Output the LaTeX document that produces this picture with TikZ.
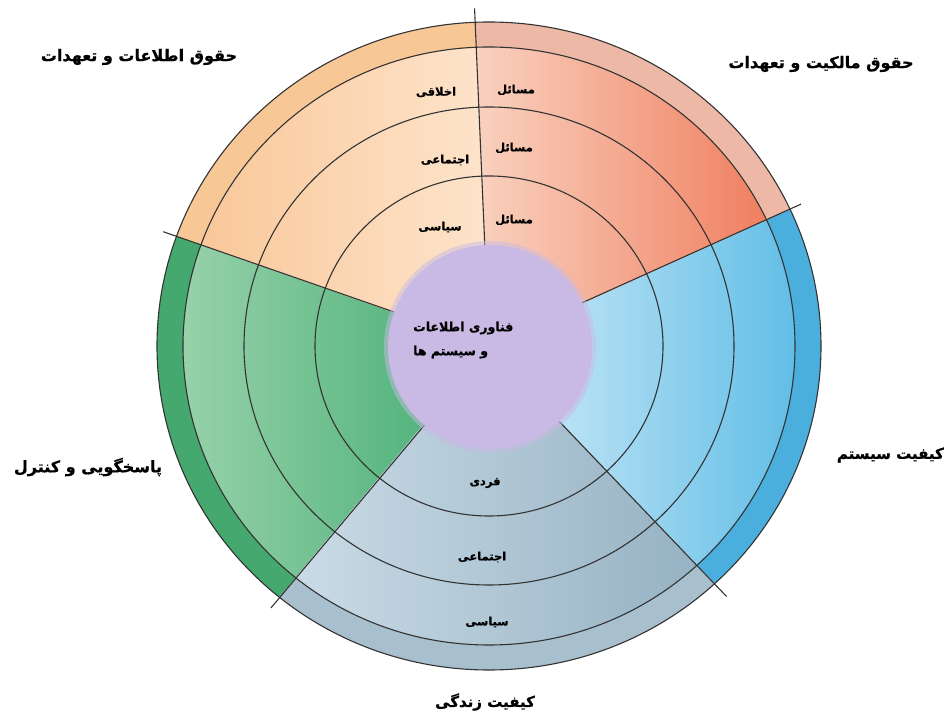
\documentclass[tikz,border=0pt]{standalone}
\usepackage{fontspec}
\newfontfamily\farsi[Script=Arabic,BoldFeatures={FakeBold=0.8}]{DejaVu Sans}
\TeXXeTstate=1

\definecolor{linegray}{HTML}{333333}
\definecolor{redlight}{HTML}{F9D2C0}
\definecolor{reddeep}{HTML}{EF7858}
\definecolor{redring}{HTML}{EDB9A6}
\definecolor{orangelight}{HTML}{F9C596}
\definecolor{orangepale}{HTML}{FDE4CB}
\definecolor{orangering}{HTML}{F8C796}
\definecolor{greenlight}{HTML}{A6D8B3}
\definecolor{greendeep}{HTML}{42AC72}
\definecolor{greenring}{HTML}{45A96F}
\definecolor{graylight}{HTML}{CBDDE7}
\definecolor{graydeep}{HTML}{94B0C2}
\definecolor{grayring}{HTML}{A8BFCE}
\definecolor{bluelight}{HTML}{D4EDF9}
\definecolor{bluedeep}{HTML}{4DB5E3}
\definecolor{bluering}{HTML}{4BAFDE}
\definecolor{core}{HTML}{C8BAE4}

\begin{document}
\begin{tikzpicture}[x=1pt,y=1pt,
	ring/.style={draw=linegray, line width=1.1pt},
	divider/.style={draw=linegray, line width=1.1pt},
	title/.style={font=\farsi\bfseries\fontsize{16}{18}\selectfont, inner sep=0pt},
	smalltitle/.style={font=\farsi\bfseries\fontsize{15}{17}\selectfont, inner sep=0pt},
	tag/.style={font=\farsi\bfseries\fontsize{11.5}{13}\selectfont, inner sep=0pt},
	coretext/.style={font=\farsi\bfseries\fontsize{12.5}{14}\selectfont, inner sep=0pt, anchor=west}]
	
	\useasboundingbox (0,0) rectangle (948,715);
	\coordinate (o) at (489,369);
	
	\begin{scope}[shift={(o)}]
	% sectors
	\shade[left color=redlight, right color=reddeep] (0,0) -- (24.9:332 and 324) arc[start angle=24.9, end angle=92.4, x radius=332, y radius=324] -- cycle;
	\shade[left color=orangelight, right color=orangepale] (0,0) -- (92.4:332 and 324) arc[start angle=92.4, end angle=160.3, x radius=332, y radius=324] -- cycle;
	\shade[left color=greenlight, right color=greendeep] (0,0) -- (160.3:332 and 324) arc[start angle=160.3, end angle=230.8, x radius=332, y radius=324] -- cycle;
	\shade[left color=graylight, right color=graydeep] (0,0) -- (230.8:332 and 324) arc[start angle=230.8, end angle=312.9, x radius=332, y radius=324] -- cycle;
	\shade[left color=bluelight, right color=bluedeep] (0,0) -- (312.9:332 and 324) arc[start angle=312.9, end angle=384.9, x radius=332, y radius=324] -- cycle;
	
	% outer band
	\foreach \a/\b/\c in {24.9/92.4/redring, 92.4/160.3/orangering, 160.3/230.8/greenring, 230.8/312.9/grayring, 312.9/384.9/bluering}
		\fill[\c] (\a:306 and 299) arc[start angle=\a, end angle=\b, x radius=306, y radius=299] -- (\b:332 and 324) arc[start angle=\b, end angle=\a, x radius=332, y radius=324] -- cycle;
	
	\foreach \r/\s in {174/170, 245/239, 306/299, 332/324}
		\draw[ring] (0,0) ellipse[x radius=\r, y radius=\s];
	
	\foreach \n/\a/\rx/\ry in {1/24.9/344/337, 2/92.4/345/338, 3/160.3/346/339, 4/230.8/345/338, 5/312.9/349/342} {
		\coordinate (in\n) at (\a:100);
		\coordinate (out\n) at (\a:{\rx} and {\ry});
		\path[divider] (in\n) edge (out\n);
	}
	
	% core with soft rim
	\fill[core, opacity=0.5] (1,-1) circle[radius=106];
	\fill[core] (1,-1) circle[radius=102];
	\end{scope}
	
	% labels
	\node[title] (t1) at (139,658) {\beginR حقوق اطلاعات و تعهدات\endR};
	\node[title] (t2) at (821,651) {\beginR حقوق مالکیت و تعهدات\endR};
	\node[smalltitle, anchor=east] (t3) at (944,260) {\beginR کیفیت سیستم\endR};
	\node[title] (t4) at (88,248) {\beginR پاسخگویی و کنترل\endR};
	\node[smalltitle] (t5) at (485,13) {\beginR کیفیت زندگی\endR};
	
	\node[coretext] (c1) at (413,387) {\beginR فناوری اطلاعات\endR};
	\node[coretext] (c2) at (413,363) {\beginR و سیستم ها\endR};
	
	\node[tag] (a1) at (436,623) {\beginR اخلاقی\endR};
	\node[tag] (a2) at (445,555) {\beginR اجتماعی\endR};
	\node[tag] (a3) at (440,488) {\beginR سیاسی\endR};
	\node[tag] (m1) at (516,625) {\beginR مسائل\endR};
	\node[tag] (m2) at (514,567) {\beginR مسائل\endR};
	\node[tag] (m3) at (514,495) {\beginR مسائل\endR};
	
	\node[tag] (b1) at (485,232) {\beginR فردی\endR};
	\node[tag] (b2) at (482,158) {\beginR اجتماعی\endR};
	\node[tag] (b3) at (487,93) {\beginR سیاسی\endR};
	
\end{tikzpicture}
\end{document}
